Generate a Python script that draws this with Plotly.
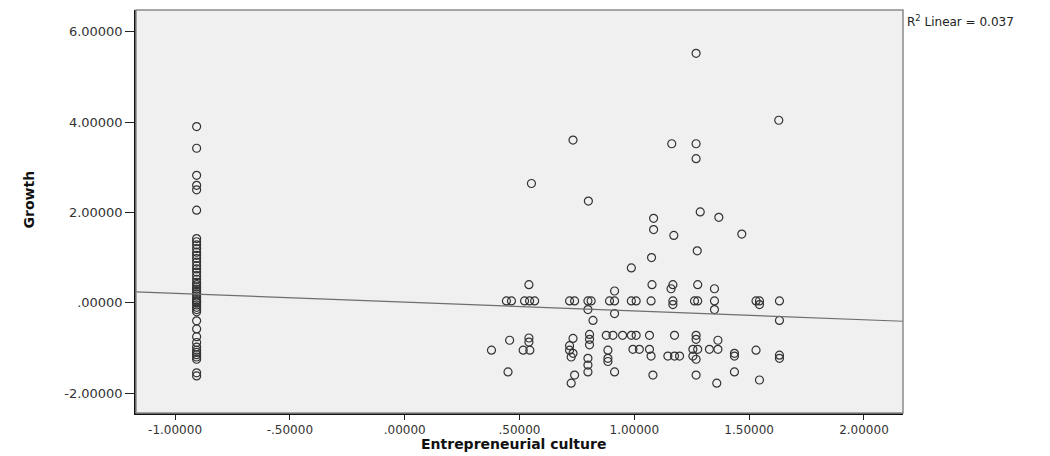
import plotly.graph_objects as go

# ---- data ----
left_x_value = -0.906
left_growth = [3.90, 3.42, 2.82, 2.60, 2.50, 2.05, 1.42, 1.35, 1.28, 1.20, 1.12, 1.05,
               0.98, 0.90, 0.82, 0.75, 0.68, 0.60, 0.52, 0.45, 0.40, 0.35, 0.30, 0.25,
               0.20, 0.15, 0.10, 0.05, 0.02, 0.00, -0.05, -0.10, -0.15, -0.20, -0.40,
               -0.58, -0.75, -0.88, -0.98, -1.05, -1.10, -1.15, -1.20, -1.25, -1.55, -1.62]

right_culture = [1.269, 1.629, 0.733, 1.163, 1.269, 1.269, 0.552, 0.800, 1.287, 1.368,
                 1.084, 1.084, 1.172, 1.468, 1.274, 1.075, 0.987,
                 0.541, 1.077, 1.168, 1.160, 1.276, 1.349, 0.914,
                 0.443, 0.465, 0.522, 0.544, 0.566, 0.718, 0.740, 0.798, 0.812, 0.892,
                 0.914, 0.987, 1.008, 1.073, 1.168, 1.262, 1.276, 1.349, 1.530, 1.545, 1.632,
                 1.168, 1.545, 0.798, 1.349, 0.914, 0.820, 1.632,
                 0.457, 0.541, 0.541, 0.378, 0.516, 0.545, 0.733, 0.805, 0.805, 0.805,
                 0.718, 0.718, 0.733, 0.725, 0.798, 0.798, 0.798, 0.450, 0.740, 0.725,
                 0.878, 0.907, 0.885, 0.885, 0.885, 0.914,
                 0.949, 0.987, 1.008, 1.066, 1.175, 1.269, 1.269, 1.364,
                 0.994, 1.022, 1.066, 1.255, 1.276, 1.327, 1.364,
                 1.073, 1.146, 1.175, 1.197, 1.255, 1.436, 1.436,
                 1.081, 1.269, 1.436, 1.359, 1.530, 1.545, 1.632, 1.632, 1.269]
right_growth = [5.52, 4.04, 3.60, 3.52, 3.52, 3.19, 2.64, 2.25, 2.01, 1.89,
                1.87, 1.62, 1.49, 1.52, 1.15, 1.00, 0.77,
                0.40, 0.40, 0.40, 0.31, 0.40, 0.31, 0.26,
                0.04, 0.04, 0.04, 0.04, 0.04, 0.04, 0.04, 0.04, 0.04, 0.04,
                0.04, 0.04, 0.04, 0.04, 0.04, 0.04, 0.04, 0.04, 0.04, 0.04, 0.04,
                -0.04, -0.04, -0.15, -0.15, -0.24, -0.39, -0.39,
                -0.83, -0.78, -0.87, -1.05, -1.05, -1.05, -0.79, -0.70, -0.81, -0.93,
                -0.95, -1.05, -1.12, -1.20, -1.23, -1.38, -1.53, -1.53, -1.60, -1.78,
                -0.72, -0.72, -1.05, -1.23, -1.30, -1.53,
                -0.72, -0.72, -0.72, -0.72, -0.72, -0.72, -0.81, -0.83,
                -1.03, -1.03, -1.03, -1.03, -1.03, -1.03, -1.03,
                -1.18, -1.18, -1.18, -1.18, -1.18, -1.12, -1.18,
                -1.60, -1.60, -1.53, -1.78, -1.05, -1.71, -1.16, -1.23, -1.25]

fit_intercept = 0.014
fit_slope = -0.195
r_squared = 0.037

x_title = "Entrepreneurial culture"
y_title = "Growth"
x_tick_values = [-1.0, -0.5, 0.0, 0.5, 1.0, 1.5, 2.0]
x_tick_labels = ["-1.00000", "-.50000", ".00000", ".50000", "1.00000", "1.50000", "2.00000"]
y_tick_values = [-2.0, 0.0, 2.0, 4.0, 6.0]
y_tick_labels = ["-2.00000", ".00000", "2.00000", "4.00000", "6.00000"]

x_range = [-1.17, 2.17]
y_range = [-2.44, 6.48]

# ---- figure ----
culture = [left_x_value] * len(left_growth) + right_culture
growth = left_growth + right_growth

fig = go.Figure()
fig.add_trace(go.Scatter(
    x=culture, y=growth, mode="markers",
    marker=dict(symbol="circle-open", size=8, color="#333333", line=dict(width=1.2)),
    showlegend=False, hoverinfo="x+y"))

fit_x = x_range
fit_y = [fit_intercept + fit_slope * v for v in fit_x]
fig.add_trace(go.Scatter(x=fit_x, y=fit_y, mode="lines",
                         line=dict(color="#6e6e6e", width=1.2),
                         showlegend=False, hoverinfo="skip"))

font_family = "DejaVu Sans, Arial, sans-serif"

fig.update_layout(
    width=1050, height=456,
    margin=dict(l=136, r=147, t=10, b=43),
    paper_bgcolor="white", plot_bgcolor="#f0f0f0",
    font=dict(family=font_family, color="#222", size=12),
    xaxis=dict(range=x_range, tickvals=x_tick_values, ticktext=x_tick_labels,
               automargin=False,
               showgrid=False, zeroline=False, showline=True, linecolor="#111",
               linewidth=1.5, ticks="outside", ticklen=5, tickcolor="#222",
               tickfont=dict(size=12, color="#333")),
    yaxis=dict(range=y_range, tickvals=y_tick_values, ticktext=y_tick_labels,
               automargin=False,
               showgrid=False, zeroline=False, showline=True, linecolor="#111",
               linewidth=1.5, ticks="outside", ticklen=9, tickcolor="#222",
               tickfont=dict(size=13, color="#333")),
    shapes=[dict(type="rect", xref="paper", yref="paper", x0=0, y0=0, x1=1, y1=1,
                 line=dict(color="#8a8a8a", width=1.5), layer="above")],
    annotations=[
        dict(text=f"R<sup>2</sup> Linear = {r_squared:.3f}", xref="paper", yref="paper",
             x=1.0, y=1.0, xanchor="left", yanchor="top", xshift=2, yshift=-1,
             showarrow=False, font=dict(size=12, color="#222")),
        dict(text=f"<b>{x_title}</b>", xref="paper", yref="paper", x=0.5, y=0,
             xanchor="center", yanchor="middle", xshift=-6, yshift=-31,
             showarrow=False, font=dict(size=14, color="#111")),
        dict(text=f"<b>{y_title}</b>", xref="paper", yref="paper", x=0, y=0.5,
             xanchor="center", yanchor="middle", xshift=-108, yshift=12, textangle=-90,
             showarrow=False, font=dict(size=14, color="#111")),
    ],
)

fig.write_html("out.html")
